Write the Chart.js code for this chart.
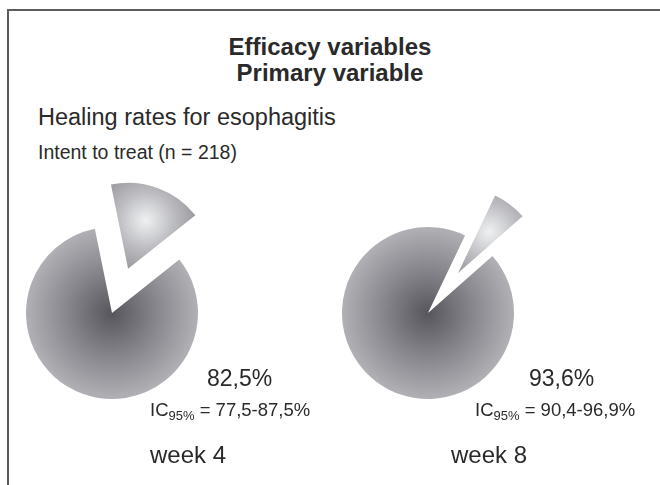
<!DOCTYPE html>
<html>
<head>
<meta charset="utf-8">
<script src="https://cdn.jsdelivr.net/npm/chart.js@4"></script>
<style>
  html, body { margin: 0; padding: 0; background: #fff; }
  body { width: 660px; height: 485px; position: relative; overflow: hidden;
         font-family: "Liberation Sans", Arial, sans-serif; color: #2a2a2a; }
  .frame { position: absolute; left: 7px; top: 9px; right: -4px; bottom: -4px;
           border-top: 2px solid #5c5c5c; border-left: 2px solid #5c5c5c; }
  .txt { position: absolute; white-space: nowrap; line-height: 1; }
  canvas { position: absolute; }
  sub { font-size: 13px; vertical-align: -4px; line-height: 0; }
</style>
</head>
<body>
<div class="frame"></div>
<canvas id="pie0" width="224" height="300" style="left:0px; top:163px"></canvas>
<canvas id="pie1" width="224" height="300" style="left:316px; top:163px"></canvas>
<script>
// data
const weeks = ['week 4', 'week 8'];
const healed = [82.5, 93.6];
const notHealed = [17.5, 6.4];
const ciLow = [77.5, 90.4];
const ciHigh = [87.5, 96.9];

const fmt = v => v.toFixed(1).replace('.', ',');

// small helper to place a line of text by its baseline
function addText(html, left, baseline, size, opts = {}) {
    const el = document.createElement('div');
    el.className = 'txt';
    el.innerHTML = html;
    el.style.fontSize = size + 'px';
    el.style.top = (baseline - 0.85 * size) + 'px';
    if (opts.center) {
        el.style.left = (left - 200) + 'px';
        el.style.width = '400px';
        el.style.textAlign = 'center';
    } else {
        el.style.left = left + 'px';
    }
    if (opts.bold) el.style.fontWeight = 'bold';
    document.body.appendChild(el);
}

addText('Efficacy variables', 330, 55, 24, { bold: true, center: true });
addText('Primary variable', 330, 81, 24, { bold: true, center: true });
addText('Healing rates for esophagitis', 38, 126, 23.5);
addText('Intent to treat (n = 218)', 38, 160, 19.5);

// per-pie layout (style only)
const pieStyle = [
    { rotation: -11.5, explode: 47, rateX: 207, ciX: 150, weekX: 150 },
    { rotation: 25.5, explode: 50, rateX: 529, ciX: 475, weekX: 451 }
];
const radius = 86;

// moves the "not healed" slice away from the centre along its mid angle
const explodePlugin = {
    id: 'explode',
    afterDatasetUpdate(chart, args, opts) {
        const meta = chart.getDatasetMeta(0);
        const arc = meta.data[opts.index];
        if (!arc) return;
        const mid = (arc.startAngle + arc.endAngle) / 2;
        arc.x += Math.cos(mid) * opts.distance;
        arc.y += Math.sin(mid) * opts.distance;
    }
};

function sliceColor(context, style) {
    const chart = context.chart;
    const area = chart.chartArea;
    if (!area) return '#999';
    const c = chart.ctx;
    const cx = (area.left + area.right) / 2;
    const cy = (area.top + area.bottom) / 2;
    if (context.dataIndex === 1) {
        const g = c.createRadialGradient(cx, cy, 0, cx, cy, radius);
        g.addColorStop(0, '#57565c');
        g.addColorStop(0.55, '#8a898f');
        g.addColorStop(1, '#b1b0b5');
        return g;
    }
    // light spot in the middle of the exploded slice
    const data = context.dataset.data;
    const total = data[0] + data[1];
    const start = (style.rotation - 90) * Math.PI / 180;
    const mid = start + Math.PI * data[0] / total;
    const d = style.explode + radius * 0.6;
    const gx = cx + Math.cos(mid) * d;
    const gy = cy + Math.sin(mid) * d;
    const g = c.createRadialGradient(gx, gy, 0, gx, gy, 62);
    g.addColorStop(0, '#eef1f2');
    g.addColorStop(0.45, '#bdbdc1');
    g.addColorStop(1, '#8a898e');
    return g;
}

weeks.forEach((week, i) => {
    const style = pieStyle[i];
    new Chart(document.getElementById('pie' + i), {
        type: 'pie',
        data: {
            labels: ['not healed', 'healed'],
            datasets: [{
                data: [notHealed[i], healed[i]],
                backgroundColor: ctx => sliceColor(ctx, style),
                borderWidth: 0
            }]
        },
        options: {
            responsive: false,
            animation: false,
            events: [],
            radius: radius,
            rotation: style.rotation,
            layout: { padding: 0 },
            plugins: {
                legend: { display: false },
                tooltip: { enabled: false },
                explode: { index: 0, distance: style.explode }
            }
        },
        plugins: [explodePlugin]
    });

    addText(fmt(healed[i]) + '%', style.rateX, 387, 23);
    addText('IC<sub>95%</sub> = ' + fmt(ciLow[i]) + '-' + fmt(ciHigh[i]) + '%', style.ciX, 417, 18.5);
    addText(week, style.weekX, 463, 24);
});
</script>
</body>
</html>
